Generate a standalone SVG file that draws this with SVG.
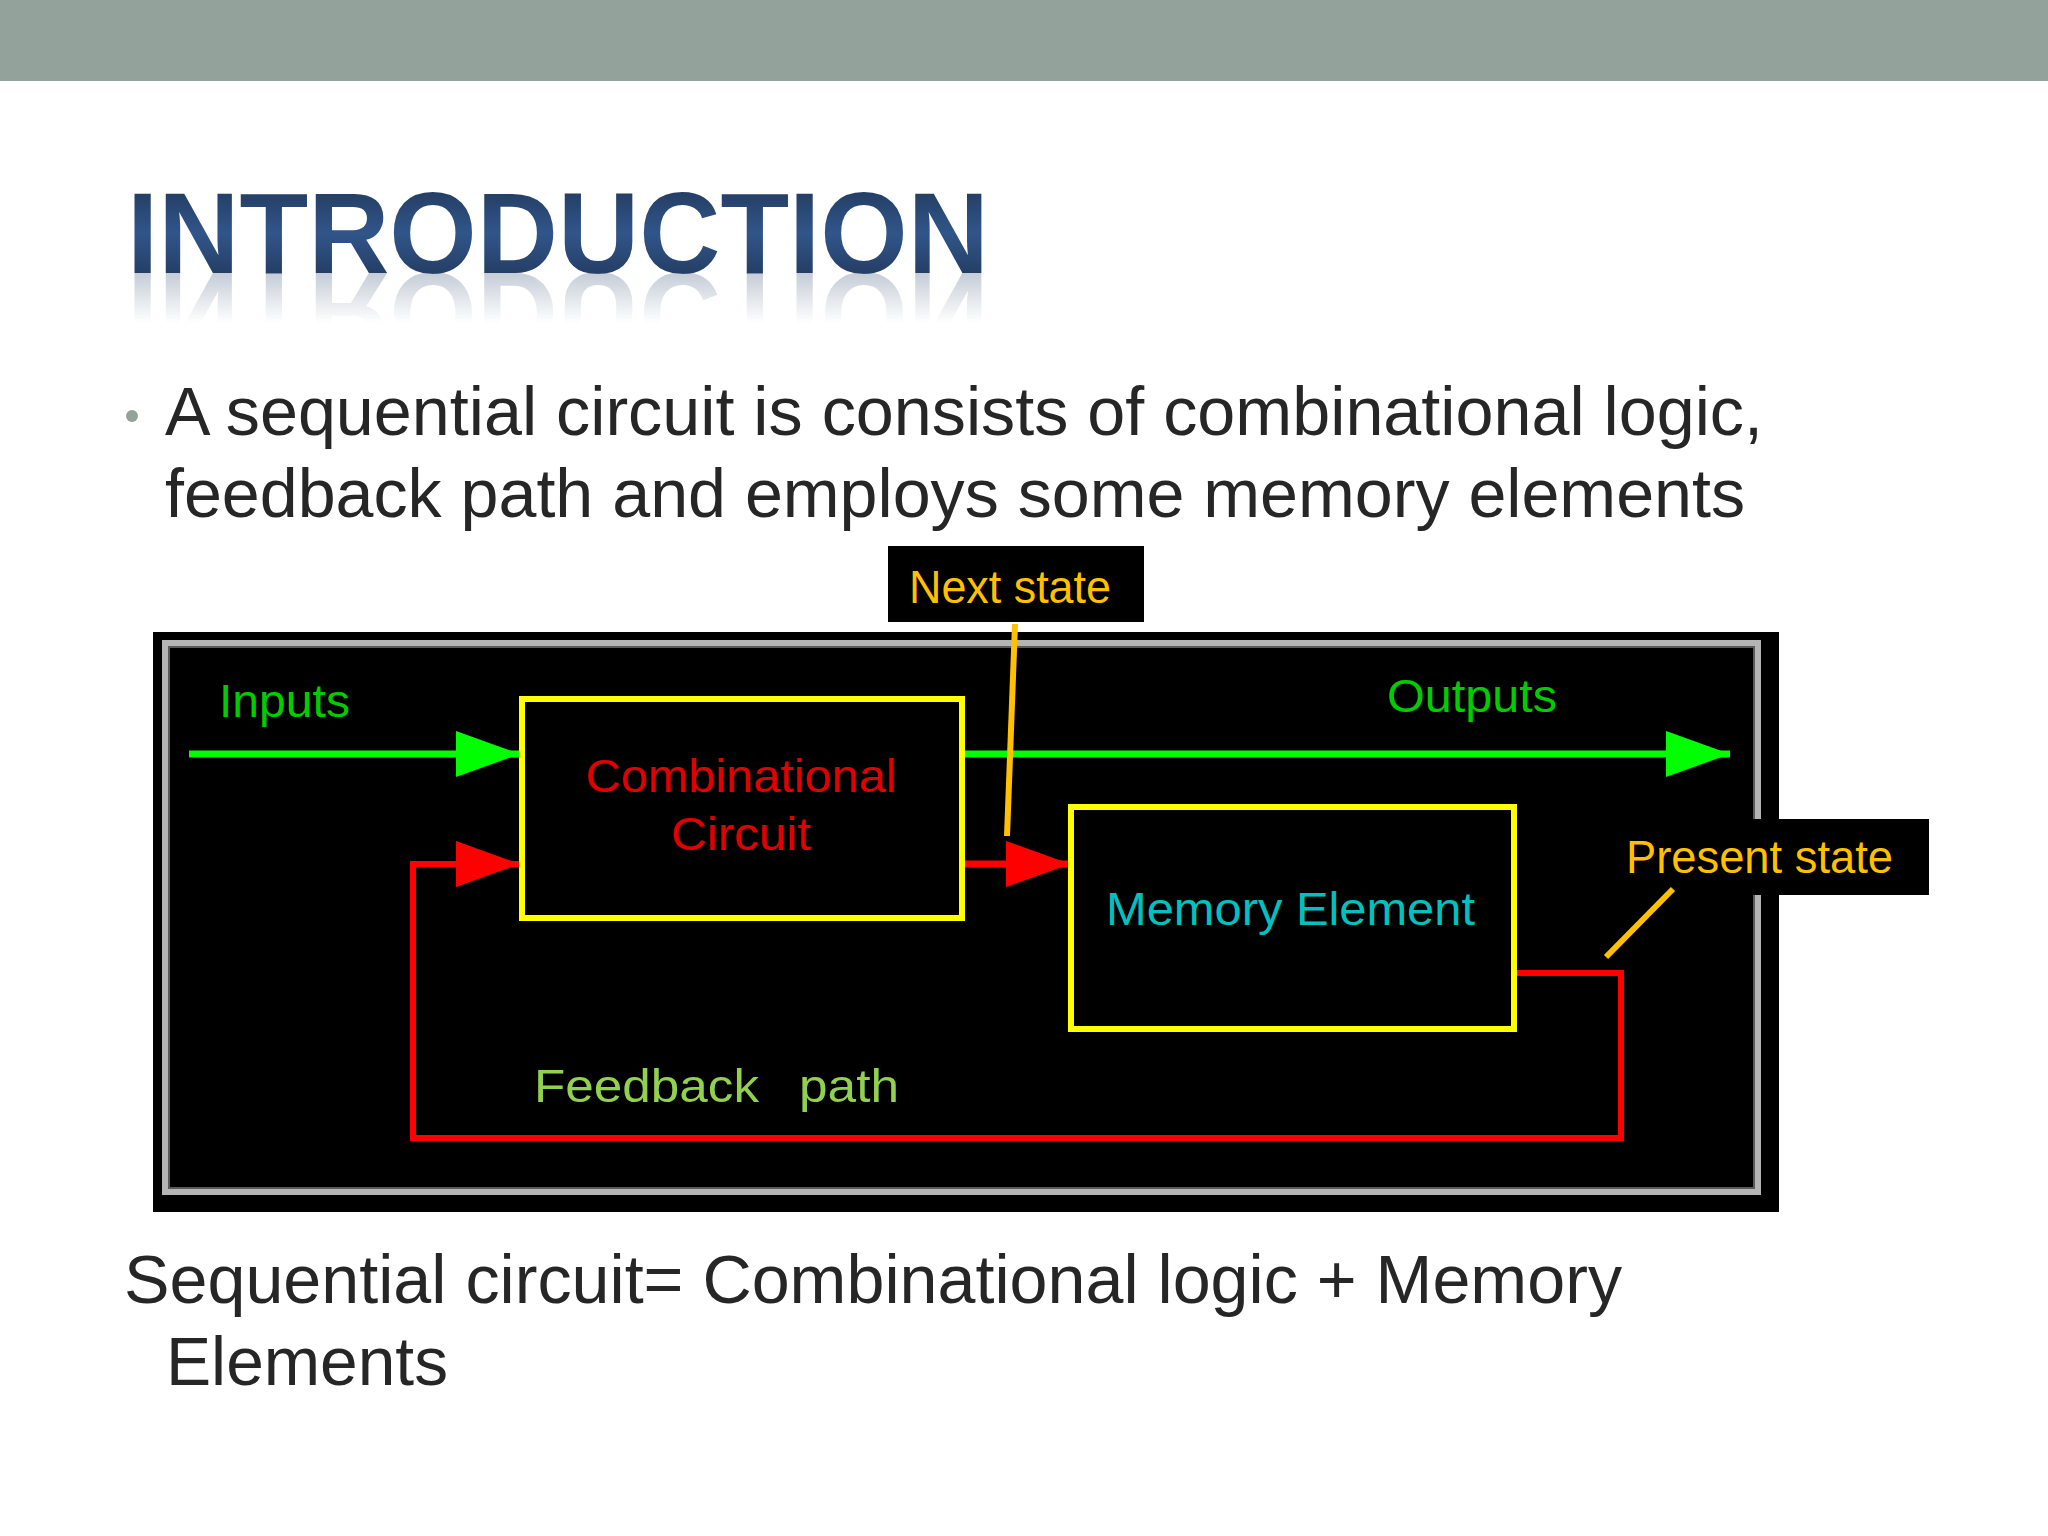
<svg xmlns="http://www.w3.org/2000/svg" width="2048" height="1536" viewBox="0 0 2048 1536">
<defs>
<style>
.body{font-family:"Liberation Sans",Arial,sans-serif;font-size:68px;fill:#262626}
.lbl{font-family:"Liberation Sans",Arial,sans-serif;font-size:46px}
.gold{fill:#FFC000}
.box{fill:none;stroke:#FFFF00;stroke-width:6}
.lead{stroke:#FFC000;stroke-width:6;fill:none}
</style>
<linearGradient id="tg" x1="0" y1="0" x2="0" y2="1">
<stop offset="0" stop-color="#1D3250"/>
<stop offset="0.5" stop-color="#31558A"/>
<stop offset="1" stop-color="#1D3250"/>
</linearGradient>
<linearGradient id="rg" x1="0" y1="0" x2="0" y2="1">
<stop offset="0" stop-color="#fff" stop-opacity="0.35"/>
<stop offset="1" stop-color="#fff" stop-opacity="0"/>
</linearGradient>
<mask id="rm" maskUnits="userSpaceOnUse" x="0" y="270" width="1100" height="60">
<rect x="0" y="273" width="1100" height="50" fill="url(#rg)"/>
</mask>
<marker id="ag" markerUnits="userSpaceOnUse" markerWidth="66" markerHeight="46" refX="64" refY="23" orient="auto">
<path d="M0,0 L64,23 L0,46 z" fill="#00FF00"/>
</marker>
<marker id="ar" markerUnits="userSpaceOnUse" markerWidth="66" markerHeight="46" refX="64" refY="23" orient="auto">
<path d="M0,0 L64,23 L0,46 z" fill="#FF0000"/>
</marker>
</defs>
<rect width="2048" height="1536" fill="#FFFFFF"/>
<rect id="topbar" x="0" y="0" width="2048" height="81" fill="#93A39B"/>

<g id="title">
<text x="127" y="273" font-family="Liberation Sans,Arial,sans-serif" font-weight="bold" font-size="115" fill="url(#tg)" textLength="862" lengthAdjust="spacingAndGlyphs">INTRODUCTION</text>
<g mask="url(#rm)">
<text x="127" y="-273" transform="scale(1,-1)" font-family="Liberation Sans,Arial,sans-serif" font-weight="bold" font-size="115" fill="#5A6E8C" textLength="862" lengthAdjust="spacingAndGlyphs">INTRODUCTION</text>
</g>
</g>

<g id="bullet">
<circle cx="132" cy="416" r="6" fill="#93A39B"/>
<text class="body" x="165" y="435" textLength="1598" lengthAdjust="spacingAndGlyphs">A sequential circuit is consists of combinational logic,</text>
<text class="body" x="165" y="517" textLength="1580" lengthAdjust="spacingAndGlyphs">feedback path and employs some memory elements</text>
</g>

<g id="diagram-frame">
<rect x="153" y="632" width="1626" height="580" fill="#000000"/>
<rect x="165" y="643" width="1593" height="549" fill="none" stroke="#B4B4B4" stroke-width="6"/>
<rect x="169" y="647" width="1585" height="541" fill="none" stroke="#5A5A5A" stroke-width="2"/>
</g>

<g id="labels">
<text class="lbl" x="219" y="717" fill="#00CC00" textLength="131" lengthAdjust="spacingAndGlyphs">Inputs</text>
<text class="lbl" x="1387" y="712" fill="#00CC00" textLength="170" lengthAdjust="spacingAndGlyphs">Outputs</text>
<text class="lbl" x="534" y="1102" fill="#92D050" font-size="51" textLength="225" lengthAdjust="spacingAndGlyphs">Feedback</text>
<text class="lbl" x="799" y="1102" fill="#92D050" font-size="51" textLength="100" lengthAdjust="spacingAndGlyphs">path</text>
</g>

<g id="connectors">
<path d="M189,754 H520" stroke="#00FF00" stroke-width="7" fill="none" marker-end="url(#ag)"/>
<path d="M962,754 H1730" stroke="#00FF00" stroke-width="7" fill="none" marker-end="url(#ag)"/>
<path d="M962,864 H1070" stroke="#FF0000" stroke-width="7" fill="none" marker-end="url(#ar)"/>
<path d="M1514,973 H1621 V1138 H413 V864 H520" stroke="#FF0000" stroke-width="6" fill="none" marker-end="url(#ar)"/>
</g>

<g id="combinational-circuit">
<rect class="box" x="522" y="699" width="440" height="219"/>
<text class="lbl" x="741" y="792" fill="#E00000" text-anchor="middle" textLength="311" lengthAdjust="spacingAndGlyphs">Combinational</text>
<text class="lbl" x="741" y="850" fill="#E00000" text-anchor="middle" textLength="140" lengthAdjust="spacingAndGlyphs">Circuit</text>
</g>

<g id="memory-element">
<rect class="box" x="1071" y="807" width="443" height="222"/>
<text class="lbl" x="1106" y="925" fill="#00C0C0" textLength="369" lengthAdjust="spacingAndGlyphs">Memory Element</text>
</g>

<g id="next-state">
<rect x="888" y="546" width="256" height="76" fill="#000000"/>
<text class="lbl gold" x="909" y="603" font-size="45" textLength="202" lengthAdjust="spacingAndGlyphs">Next state</text>
<path class="lead" d="M1015,624 L1007,836"/>
</g>

<g id="present-state">
<rect x="1605" y="819" width="324" height="76" fill="#000000"/>
<text class="lbl gold" x="1626" y="873" font-size="45" textLength="267" lengthAdjust="spacingAndGlyphs">Present state</text>
<path class="lead" d="M1673,889 L1606,957"/>
</g>

<g id="equation">
<text class="body" x="124" y="1303" textLength="1498" lengthAdjust="spacingAndGlyphs">Sequential circuit= Combinational logic + Memory</text>
<text class="body" x="166" y="1385" textLength="282" lengthAdjust="spacingAndGlyphs">Elements</text>
</g>
</svg>
